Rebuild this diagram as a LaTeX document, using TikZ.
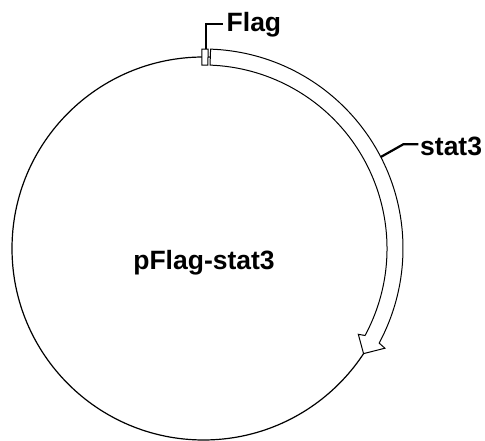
\documentclass[tikz,border=0pt]{standalone}
\usepackage{fontspec}
\setmainfont{Liberation Sans}
\begin{document}
\begin{tikzpicture}[x=1pt,y=1pt,
  lbl/.style={font=\bfseries\fontsize{26.5}{30}\selectfont, inner sep=0pt},
  plasmid/.style={line width=1.2pt},
  feature/.style={line width=1pt, fill=white, line join=miter},
  leader/.style={line width=2.2pt, line join=miter}]
\useasboundingbox[fill=white] (0,0) rectangle (485,441);
\coordinate (c) at (203.5,192.5);
\draw[plasmid] (c) circle[radius=191.5pt];
\begin{scope}[shift={(c)}]
  % stat3 arrow
  \draw[feature] (87.96:183.5pt) -- (87.96:199.5pt)
     arc[start angle=87.96, end angle=-28.3, radius=199.5pt]
     -- (-28.8:207pt) -- (-33.3:191.5pt) -- (-29.0:177pt) -- (-28.3:183.5pt)
     arc[start angle=-28.3, end angle=87.96, radius=183.5pt] -- cycle;
  % Flag box
  \draw[feature] (90.5:183.5pt) -- (90.5:199.5pt)
     arc[start angle=90.5, end angle=88.65, radius=199.5pt]
     -- (88.65:183.5pt)
     arc[start angle=88.65, end angle=90.5, radius=183.5pt] -- cycle;
  \coordinate (flagtop) at (89.2:199.5pt);
  \coordinate (stattop) at (27.3:199.5pt);
\end{scope}
\node[lbl, anchor=base west] (flag) at (226.5,409) {Flag};
\node[lbl, anchor=base west] (stat) at (420,285) {stat3};
\node[lbl, anchor=base] (name) at (204,171) {pFlag-stat3};
\coordinate (fk) at (flagtop |- 0,417);
\coordinate (fe) at (222.7,417);
\draw[leader] (flagtop) -- (fk) -- (fe);
\coordinate (sk) at (403.3,296.7);
\coordinate (se) at (418.3,296.7);
\draw[leader] (stattop) -- (sk) -- (se);
\end{tikzpicture}
\end{document}
